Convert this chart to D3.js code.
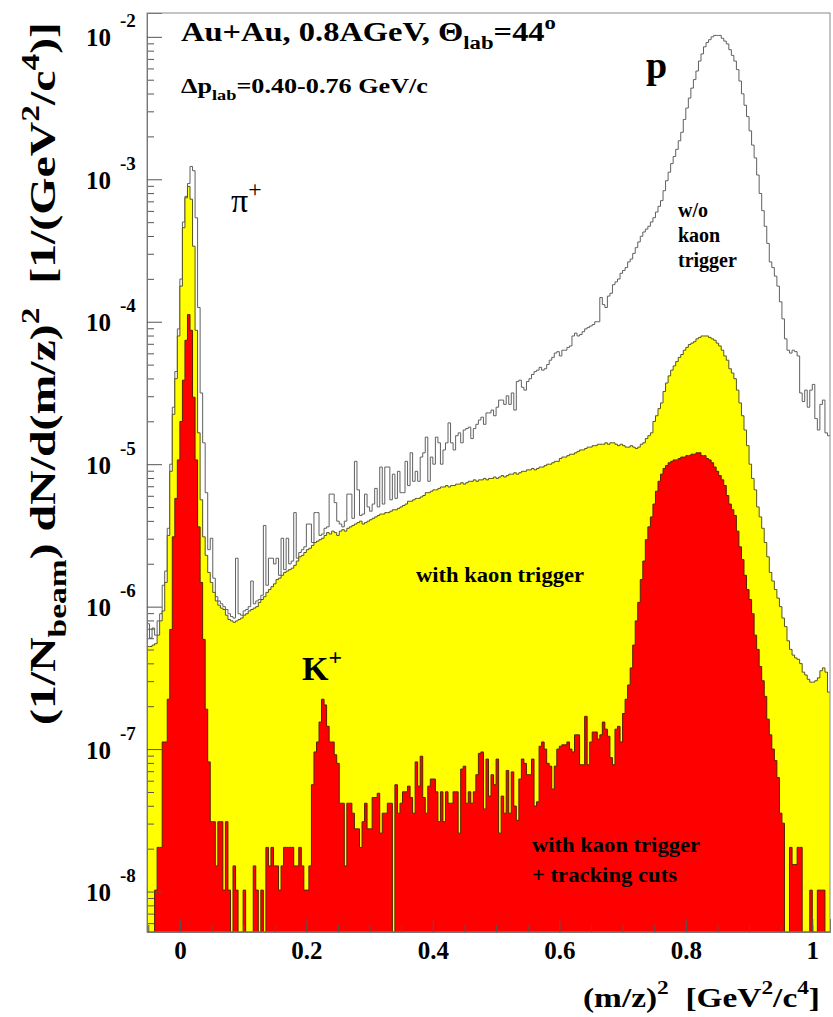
<!DOCTYPE html>
<html>
<head>
<meta charset="utf-8">
<script src="https://cdn.jsdelivr.net/npm/d3@7"></script>
<style>
  html, body { margin: 0; padding: 0; background: #fff; }
  svg text { font-family: "Liberation Serif", "Times New Roman", serif; font-weight: bold; white-space: pre; }
</style>
</head>
<body>
<svg id="chart" width="833" height="1017"></svg>
<script>
// histogram binning of (m/z)^2 in GeV^2/c^4
var binLo = -0.052;
var binWidth = 0.004;

// bin contents, log10 of (1/Nbeam) dN/d(m/z)^2, null = empty bin
var logNoTrigger = [
  -6.12,-6.22,-6.15,-6.2,-6.1,-6.05,-5.85,-5.75,-5.45,-5.0,
  -4.6,-4.35,-4.05,-3.7,-3.3,-3.12,-3.03,-2.91,-2.94,-3.27,
  -3.9,-4.5,-4.85,-5.2,-5.6,-5.52,-5.8,-5.93,-5.96,-5.98,
  -6.0,-6.02,-6.05,-6.07,-6.08,-5.66,-6.05,-6.06,-6.03,-6.02,
  -6.0,-5.82,-5.98,-5.96,-5.95,-5.92,-5.43,-5.85,-5.66,-5.66,
  -5.7,-5.66,-5.78,-5.52,-5.74,-5.52,-5.7,-5.68,-5.34,-5.66,
  -5.62,-5.6,-5.58,-5.42,-5.42,-5.55,-5.34,-5.34,-5.5,-5.49,
  -5.45,-5.44,-5.21,-5.21,-5.27,-5.4,-5.42,-5.44,-5.4,-5.21,
  -5.21,-5.38,-4.98,-5.18,-5.36,-5.35,-5.21,-5.3,-5.33,-5.28,
  -5.17,-5.3,-5.02,-5.28,-5.02,-5.02,-5.25,-5.07,-5.24,-5.05,
  -5.2,-5.2,-4.98,-5.15,-4.92,-5.12,-5.05,-5.12,-4.95,-4.92,
  -4.81,-5.12,-4.95,-5.0,-4.81,-4.85,-5.0,-4.9,-4.85,-4.71,
  -4.85,-4.9,-4.8,-4.78,-4.85,-4.76,-4.75,-4.74,-4.82,-4.75,
  -4.72,-4.69,-4.67,-4.72,-4.64,-4.64,-4.62,-4.66,-4.6,-4.55,
  -4.55,-4.58,-4.52,-4.58,-4.5,-4.62,-4.42,-4.41,-4.46,-4.48,
  -4.42,-4.4,-4.37,-4.35,-4.34,-4.32,-4.34,-4.33,-4.3,-4.27,
  -4.25,-4.22,-4.21,-4.24,-4.2,-4.2,-4.18,-4.17,-4.1,-4.08,
  -4.1,-4.09,-4.07,-4.05,-4.04,-4.03,-4.02,-4.0,-4.0,-3.83,
  -3.88,-3.9,-3.82,-3.8,-3.74,-3.72,-3.7,-3.66,-3.64,-3.62,
  -3.58,-3.56,-3.52,-3.48,-3.44,-3.4,-3.37,-3.35,-3.33,-3.3,
  -3.27,-3.23,-3.19,-3.15,-3.08,-3.01,-2.95,-2.89,-2.84,-2.79,
  -2.73,-2.67,-2.58,-2.5,-2.43,-2.36,-2.3,-2.24,-2.17,-2.12,
  -2.07,-2.04,-2.02,-2.0,-1.99,-1.99,-1.99,-2.01,-2.03,-2.05,
  -2.09,-2.13,-2.17,-2.23,-2.31,-2.4,-2.48,-2.56,-2.66,-2.76,
  -2.85,-2.97,-3.1,-3.22,-3.33,-3.45,-3.58,-3.62,-3.68,-3.75,
  -3.86,-3.98,-4.12,-4.2,-4.22,-4.2,-4.21,-4.24,-4.5,-4.56,
  -4.48,-4.6,-4.48,-4.44,-4.68,-4.76,-4.58,-4.55,-4.78,-4.8
];

var logKaonTrigger = [
  -6.28,-6.28,-6.27,-6.26,-6.2,-6.1,-6.03,-5.83,-5.5,-5.05,
  -4.65,-4.4,-4.1,-3.75,-3.34,-3.13,-3.05,-3.14,-3.47,-4.06,
  -4.78,-5.25,-5.51,-5.64,-5.76,-5.83,-5.9,-5.96,-5.99,-6.01,
  -6.02,-6.06,-6.09,-6.1,-6.11,-6.1,-6.09,-6.08,-6.06,-6.05,
  -6.03,-6.02,-6.01,-6.0,-5.97,-5.95,-5.93,-5.9,-5.88,-5.86,
  -5.84,-5.81,-5.8,-5.78,-5.76,-5.75,-5.74,-5.73,-5.71,-5.68,
  -5.65,-5.64,-5.62,-5.6,-5.59,-5.57,-5.55,-5.54,-5.53,-5.52,
  -5.5,-5.48,-5.49,-5.47,-5.48,-5.5,-5.47,-5.46,-5.47,-5.45,
  -5.44,-5.43,-5.42,-5.41,-5.4,-5.42,-5.41,-5.4,-5.39,-5.38,
  -5.37,-5.36,-5.35,-5.35,-5.34,-5.34,-5.33,-5.32,-5.32,-5.31,
  -5.3,-5.29,-5.28,-5.26,-5.26,-5.25,-5.24,-5.24,-5.23,-5.22,
  -5.2,-5.2,-5.19,-5.18,-5.18,-5.17,-5.16,-5.16,-5.15,-5.16,
  -5.15,-5.15,-5.14,-5.14,-5.13,-5.14,-5.13,-5.12,-5.12,-5.11,
  -5.12,-5.11,-5.11,-5.1,-5.11,-5.1,-5.1,-5.09,-5.1,-5.09,
  -5.08,-5.09,-5.08,-5.07,-5.07,-5.06,-5.07,-5.06,-5.05,-5.05,
  -5.04,-5.04,-5.03,-5.04,-5.03,-5.02,-5.02,-5.01,-5.0,-5.0,
  -4.99,-4.98,-4.98,-4.96,-4.95,-4.95,-4.94,-4.93,-4.93,-4.92,
  -4.91,-4.9,-4.9,-4.89,-4.88,-4.88,-4.87,-4.87,-4.86,-4.86,
  -4.86,-4.85,-4.86,-4.85,-4.85,-4.86,-4.87,-4.86,-4.87,-4.88,
  -4.88,-4.87,-4.88,-4.89,-4.88,-4.86,-4.85,-4.82,-4.8,-4.78,
  -4.7,-4.66,-4.61,-4.57,-4.49,-4.43,-4.38,-4.34,-4.31,-4.28,
  -4.25,-4.23,-4.2,-4.18,-4.16,-4.15,-4.14,-4.12,-4.11,-4.1,
  -4.1,-4.1,-4.11,-4.12,-4.13,-4.15,-4.17,-4.2,-4.24,-4.27,
  -4.33,-4.36,-4.4,-4.48,-4.57,-4.66,-4.76,-4.87,-5.0,-5.1,
  -5.18,-5.3,-5.37,-5.45,-5.55,-5.65,-5.76,-5.82,-5.88,-5.94,
  -6.0,-6.08,-6.14,-6.24,-6.3,-6.34,-6.36,-6.37,-6.4,-6.46,
  -6.48,-6.51,-6.53,-6.53,-6.52,-6.5,-6.45,-6.43,-6.46,-6.6
];

var logTrackingCuts = [
  null,null,null,-7.99,-7.69,-7.69,-6.95,-6.95,-6.65,-6.16,
  -5.51,-5.24,-4.97,-4.7,-4.41,-4.13,-3.95,-4.06,-4.53,-4.97,
  -5.44,-5.83,-6.23,-6.72,-7.09,-7.51,-7.51,-7.82,-7.51,-7.51,
  -7.99,-7.51,-7.99,null,-7.82,-7.99,null,null,-7.99,null,
  null,null,-7.82,-7.99,null,-7.99,null,-7.69,-7.82,-7.69,
  -7.82,-7.82,-7.99,-7.82,-7.69,-7.69,-7.69,-7.69,-7.82,-7.82,
  -7.69,-7.82,-7.99,-7.99,-7.82,-7.25,-7.02,-6.95,-6.81,-6.65,
  -6.69,-6.84,-6.95,-6.95,-7.04,-7.1,-7.38,-7.38,-7.82,-7.38,
  -7.38,-7.45,-7.56,-7.56,-7.69,-7.51,-7.38,-7.56,-7.56,-7.34,
  -7.34,-7.31,-7.59,-7.45,-7.45,-7.38,-7.38,null,-7.25,-7.45,
  -7.38,-7.3,-7.3,-7.26,-7.34,-7.45,-7.09,-7.26,-7.05,-7.34,
  -7.45,-7.26,-7.21,-7.21,-7.3,-7.51,-7.3,-7.51,-7.3,-7.38,
  -7.38,-7.3,-7.3,-7.59,-7.14,-7.12,-7.38,-7.3,-7.38,-7.3,
  -7.18,-7.03,-7.02,-7.42,-7.07,-7.33,-7.18,-7.25,-7.07,-7.59,
  -7.33,-7.45,-7.15,-7.45,-7.16,-7.4,-7.5,-7.21,-7.07,-7.1,
  -7.18,-7.18,-7.07,-7.4,-7.37,-6.98,-6.95,-7.0,-7.1,-7.12,
  -7.28,-7.12,-7.0,-6.98,-6.97,-6.97,-6.95,-7.0,-7.02,-6.9,
  -6.9,-7.11,-7.11,-6.77,-7.11,-6.95,-6.88,-6.88,-6.93,-6.9,
  -6.81,-6.86,-6.91,-7.06,-7.11,-6.86,-6.84,-6.95,-6.75,-6.65,
  -6.55,-6.43,-6.27,-6.1,-5.97,-5.81,-5.68,-5.53,-5.44,-5.37,
  -5.28,-5.19,-5.12,-5.07,-5.03,-5.01,-4.99,-4.98,-4.97,-4.97,
  -4.96,-4.95,-4.95,-4.94,-4.94,-4.93,-4.93,-4.92,-4.92,-4.94,
  -4.94,-4.96,-4.97,-4.99,-5.02,-5.05,-5.08,-5.11,-5.15,-5.22,
  -5.28,-5.32,-5.36,-5.47,-5.58,-5.67,-5.78,-5.88,-5.95,-6.05,
  -6.2,-6.3,-6.42,-6.52,-6.63,-6.79,-6.9,-7.0,-7.08,-7.2,
  -7.45,-7.52,null,null,-7.69,-7.81,-7.81,-7.69,-7.69,null,
  null,null,-7.99,null,null,-7.99,-7.99,-7.99,null,null
];

var xTicks = [0, 0.2, 0.4, 0.6, 0.8, 1];
var xTickLabels = ['0', '0.2', '0.4', '0.6', '0.8', '1'];
var yDecades = [-8, -7, -6, -5, -4, -3, -2];
var yDecadeLabels = ['-8', '-7', '-6', '-5', '-4', '-3', '-2'];

var padL = 147, padR = 830, padT = 13, padB = 932;
var yMin = 5.2e-9, yMax = 1.47e-2;

var svg = d3.select('#chart');

var x = d3.scaleLinear()
    .domain([binLo, binLo + binWidth * logKaonTrigger.length])
    .range([padL, padR]);

var y = d3.scaleLog()
    .domain([yMin, yMax])
    .range([padB, padT]);

// step points for one histogram
function steps(logs) {
    var pts = [];
    logs.forEach(function (v, i) {
        var lo = binLo + i * binWidth;
        var val = v === null ? yMin : Math.max(Math.pow(10, v), yMin);
        pts.push([lo, val], [lo + binWidth, val]);
    });
    return pts;
}

svg.append('defs').append('clipPath')
    .attr('id', 'plotclip')
    .append('rect')
    .attr('x', padL).attr('y', padT)
    .attr('width', padR - padL).attr('height', padB - padT);

var plot = svg.append('g').attr('clip-path', 'url(#plotclip)');

var area = d3.area()
    .x(function (d) { return x(d[0]); })
    .y0(y(yMin))
    .y1(function (d) { return y(d[1]); });

var line = d3.line()
    .x(function (d) { return x(d[0]); })
    .y(function (d) { return y(d[1]); });

// w/o kaon trigger, outline only
plot.append('path')
    .attr('d', line(steps(logNoTrigger)))
    .attr('fill', 'none')
    .attr('stroke', '#606060')
    .attr('stroke-width', 1);

// with kaon trigger
plot.append('path')
    .attr('d', area(steps(logKaonTrigger)))
    .attr('fill', '#ffff00');
plot.append('path')
    .attr('d', line(steps(logKaonTrigger)))
    .attr('fill', 'none')
    .attr('stroke', '#555522')
    .attr('stroke-width', 1);

// with kaon trigger + tracking cuts
plot.append('path')
    .attr('d', area(steps(logTrackingCuts)))
    .attr('fill', '#ff0000');
plot.append('path')
    .attr('d', line(steps(logTrackingCuts)))
    .attr('fill', 'none')
    .attr('stroke', '#552200')
    .attr('stroke-width', 1);

// frame
svg.append('rect')
    .attr('x', padL).attr('y', padT)
    .attr('width', padR - padL).attr('height', padB - padT)
    .attr('fill', 'none')
    .attr('stroke', '#8a8a8a');

// x axis
var xMinor = d3.range(-0.05, 1.03, 0.05);

svg.append('g')
    .attr('transform', 'translate(0,' + padB + ')')
    .call(d3.axisBottom(x).tickValues(xMinor).tickSize(-7).tickFormat(''))
    .call(function (g) { g.select('.domain').remove(); });

var gx = svg.append('g')
    .attr('transform', 'translate(0,' + padB + ')')
    .call(d3.axisBottom(x)
        .tickValues(xTicks)
        .tickSize(-13)
        .tickPadding(9)
        .tickFormat(function (d, i) { return xTickLabels[i]; }));

gx.select('.domain').attr('stroke', '#777');
gx.selectAll('.tick text')
    .attr('font-size', 25)
    .attr('fill', '#000')
    .attr('font-family', '"Liberation Serif", serif');

// y axis
var yMinor = [];
d3.range(-9, -1).forEach(function (e) {
    d3.range(2, 10).forEach(function (m) {
        var v = m * Math.pow(10, e);
        if (v > yMin && v < yMax) yMinor.push(v);
    });
});

svg.append('g')
    .attr('transform', 'translate(' + padL + ',0)')
    .call(d3.axisLeft(y).tickValues(yMinor).tickSize(-7).tickFormat(''))
    .call(function (g) { g.select('.domain').remove(); });

var gy = svg.append('g')
    .attr('transform', 'translate(' + padL + ',0)')
    .call(d3.axisLeft(y)
        .tickValues(yDecades.map(function (e) { return Math.pow(10, e); }))
        .tickSize(-15)
        .tickFormat(''));

gy.select('.domain').attr('stroke', '#777');
svg.selectAll('.tick line').attr('stroke', '#555');

gy.selectAll('.tick').each(function (d, i) {
    var t = d3.select(this);
    t.append('text')
        .attr('x', -36).attr('y', 9)
        .attr('text-anchor', 'end')
        .attr('font-size', 25)
        .attr('fill', '#000')
        .text('10');
    t.append('text')
        .attr('x', -27).attr('y', -10)
        .attr('text-anchor', 'start')
        .attr('font-size', 19)
        .attr('fill', '#000')
        .text(yDecadeLabels[i]);
});

// text with sub/superscripts: parts = [[text, mode]], mode '' | 'sub' | 'sup'
function rich(x0, y0, size, parts, opts) {
    opts = opts || {};
    var t = svg.append('text')
        .attr('x', x0).attr('y', y0)
        .attr('font-size', size)
        .attr('fill', '#000');
    if (opts.anchor) t.attr('text-anchor', opts.anchor);
    if (opts.rotate) t.attr('transform', 'rotate(' + opts.rotate + ',' + x0 + ',' + y0 + ')');
    if (opts.weight) t.style('font-weight', opts.weight);
    var shift = 0;
    parts.forEach(function (p) {
        var target = p[1] === 'sup' ? -0.45 * size : p[1] === 'sub' ? 0.3 * size : 0;
        var s = t.append('tspan')
            .attr('dy', target - shift)
            .text(p[0]);
        if (p[1]) s.attr('font-size', size * 0.7);
        shift = target;
    });
    if (opts.length) t.attr('textLength', opts.length).attr('lengthAdjust', 'spacingAndGlyphs');
    return t;
}

rich(181, 41, 27, [['Au+Au, 0.8AGeV, \u0398', ''], ['lab', 'sub'], ['=44', ''], ['o', 'sup']], { length: 375 });
rich(181, 93, 22, [['\u0394p', ''], ['lab', 'sub'], ['=0.40-0.76 GeV/c', '']], { length: 247 });

svg.append('text').attr('x', 646).attr('y', 78).attr('font-size', 38).text('p');

rich(231, 212, 34, [['\u03c0', ''], ['+', 'sup']], { weight: 'normal' });
rich(302, 680, 34, [['K', ''], ['+', 'sup']]);

svg.append('text').attr('x', 678).attr('y', 217).attr('font-size', 20).text('w/o');
svg.append('text').attr('x', 678).attr('y', 242).attr('font-size', 20).text('kaon');
svg.append('text').attr('x', 678).attr('y', 267).attr('font-size', 20).text('trigger');

svg.append('text').attr('x', 416).attr('y', 582).attr('font-size', 21)
    .attr('textLength', 168).attr('lengthAdjust', 'spacingAndGlyphs').text('with kaon trigger');
svg.append('text').attr('x', 532).attr('y', 852).attr('font-size', 21)
    .attr('textLength', 168).attr('lengthAdjust', 'spacingAndGlyphs').text('with kaon trigger');
svg.append('text').attr('x', 532).attr('y', 882).attr('font-size', 21)
    .attr('textLength', 145).attr('lengthAdjust', 'spacingAndGlyphs').text('+ tracking cuts');

// axis titles
rich(583, 1007, 28, [['(m/z)', ''], ['2', 'sup'], ['  [GeV', ''], ['2', 'sup'], ['/c', ''], ['4', 'sup'], [']', '']], { length: 237 });
rich(55, 725, 36, [['(1/N', ''], ['beam', 'sub'], [') dN/d(m/z)', ''], ['2', 'sup'], ['  [1/(GeV', ''], ['2', 'sup'], ['/c', ''], ['4', 'sup'], [')]', '']], { rotate: -90, length: 703 });
</script>
</body>
</html>
